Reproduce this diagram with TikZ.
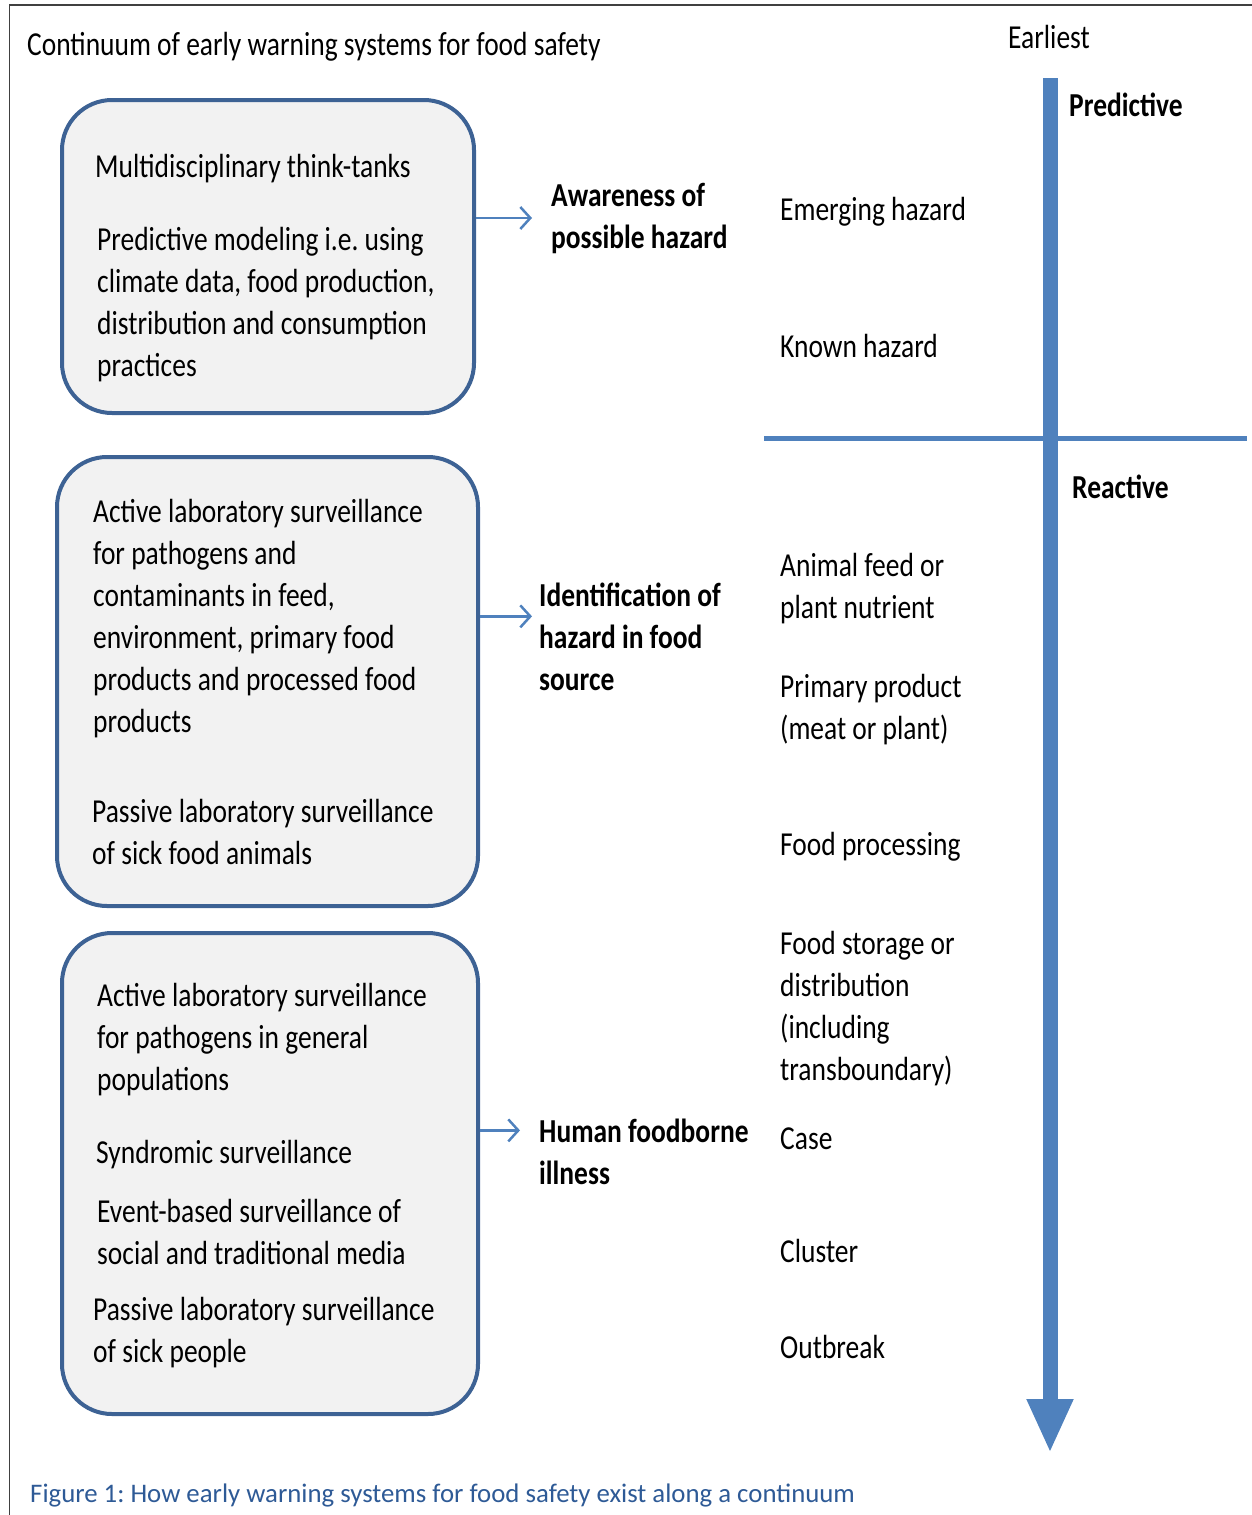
\documentclass[tikz,border=0pt]{standalone}
\usepackage{fontspec}
\setmainfont{Carlito}[FakeStretch=0.82]
\newfontfamily\capfont{Carlito}
\usetikzlibrary{positioning,arrows.meta,calc}
\definecolor{boxline}{RGB}{61,98,148}
\definecolor{boxfill}{RGB}{242,242,242}
\definecolor{axisblue}{RGB}{79,129,189}
\definecolor{captionblue}{RGB}{46,90,150}
\newcommand\bodysize{\fontsize{33.5}{42}\selectfont}
\frenchspacing

\tikzset{
  phase/.style={draw=boxline,fill=boxfill,line width=4pt,rounded corners=50pt},
  txt/.style={anchor=base west,inner sep=0pt,align=left,font=\bodysize},
  stage/.style={txt,font=\bodysize\bfseries},
  feed/.style={axisblue,line width=2.5pt,-{Straight Barb[length=10pt,width=22pt]}},
}

\begin{document}
\begin{tikzpicture}[x=1pt,y=-1pt]
    \useasboundingbox (0,0) rectangle (1252,1515);
    \draw[line width=1.5pt,black!75] (9.5,1515) -- (9.5,5) -- (1252,5); % frame

    \node[txt] (title) at (27,55) {Continuum of early warning systems for food safety};

    % the three groups of systems (text nodes sit on their last line)
    \node[phase,minimum width=412pt,minimum height=313pt] (think) at (268,256.5) {};
    \node[phase,minimum width=421pt,minimum height=449pt] (lab) at (267.5,681.5) {};
    \node[phase,minimum width=416pt,minimum height=481pt] (sick) at (270,1173.5) {};

    \node[txt] (tanks) at (95,177) {Multidisciplinary think-tanks};
    \node[txt] (model) at (97,376) {Predictive modeling i.e. using\\climate data, food production,\\distribution and consumption\\practices};
    \node[txt] (activefood) at (93,732) {Active laboratory surveillance\\for pathogens and\\contaminants in feed,\\environment, primary food\\products and processed food\\products};
    \node[txt] (passivefood) at (92,864) {Passive laboratory surveillance\\of sick food animals};
    \node[txt] (activepop) at (97,1090) {Active laboratory surveillance\\for pathogens in general\\populations};
    \node[txt] (syndrome) at (96,1163) {Syndromic surveillance};
    \node[txt] (event) at (97,1264) {Event-based surveillance of\\social and traditional media};
    \node[txt] (passivepop) at (93,1362) {Passive laboratory surveillance\\of sick people};

    % what each group gives
    \node[stage] (aware) at (551,248) {Awareness of\\possible hazard};
    \node[stage] (ident) at (539,690) {Identification of\\hazard in food\\source};
    \node[stage] (human) at (539,1184) {Human foodborne\\illness};

    \draw[feed] (think.east |- aware.west) -- ([xshift=-19pt]aware.west);
    \draw[feed] ($(lab.east |- ident.west)+(0,20pt)$) -- ($(ident.west)+(-7pt,20pt)$);
    \draw[feed] ($(sick.east |- human.west)+(0,21pt)$) -- ($(human.west)+(-19pt,21pt)$);

    % the time axis
    \draw[axisblue,line width=5pt] (764,438) -- (1247,438);
    \draw[axisblue,line width=15pt,-{Triangle[length=54pt,width=43pt]}] (1050,78) -- (1050,1453);
    \node[txt] (earliest) at (1008,48) {Earliest};
    \node[stage] (predictive) at (1069,116) {Predictive};
    \node[stage] (reactive) at (1072,498) {Reactive};

    \foreach \y/\t [count=\i] in {220/{Emerging hazard},357/{Known hazard},
        618/{Animal feed or\\plant nutrient},739/{Primary product\\(meat or plant)},
        855/{Food processing},1080/{Food storage or\\distribution\\(including\\transboundary)},
        1149/{Case},1262/{Cluster},1358/{Outbreak}}{
        \node[txt] (level\i) at (780,\y) {\t};
    }

    \node[anchor=base west,inner sep=0pt,font=\capfont\fontsize{26.8}{30}\selectfont,text=captionblue] (caption) at (30,1502) {Figure 1: How early warning systems for food safety exist along a continuum};
\end{tikzpicture}
\end{document}
